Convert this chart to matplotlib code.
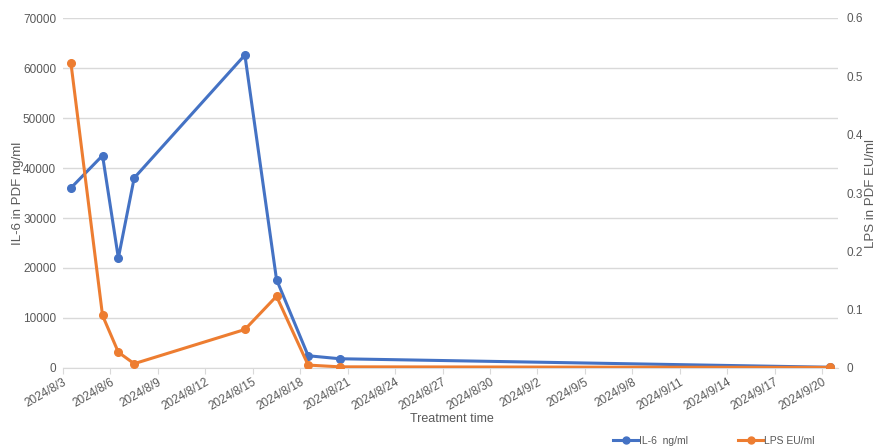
import numpy as np
import matplotlib
matplotlib.use('Agg')
import matplotlib.pyplot as plt
import matplotlib.dates as mdates
from datetime import datetime, timedelta
from matplotlib.lines import Line2D

plt.rcParams['font.family'] = ['Liberation Sans', 'DejaVu Sans']

# sampling dates and measured values
dates = ["2024-08-03", "2024-08-05", "2024-08-06", "2024-08-07", "2024-08-14",
         "2024-08-16", "2024-08-18", "2024-08-20", "2024-09-20"]
il6 = [36000, 42500, 22000, 38000, 62600, 17700, 2450, 1850, 150]  # ng/ml
lps = [0.523, 0.090, 0.027, 0.0074, 0.066, 0.123, 0.005, 0.002, 0.001]  # EU/ml

il6_ticks = [0, 10000, 20000, 30000, 40000, 50000, 60000, 70000]
lps_ticks = [0, 0.1, 0.2, 0.3, 0.4, 0.5, 0.6]

BLUE = '#4472C4'
ORANGE = '#ED7D31'
GREY = '#595959'
GRID = '#D9D9D9'

# points sit in the middle of each day on the date axis
x = [datetime.strptime(d, "%Y-%m-%d") + timedelta(hours=12) for d in dates]
start = datetime(2024, 8, 3)
end = datetime(2024, 9, 21)
xticks = [start + timedelta(days=3*i) for i in range(17)]

fig = plt.figure(figsize=(8.77, 4.48), dpi=100)
ax = fig.add_axes([63/877, 1 - 368/448, (838 - 63)/877, 350/448])
ax2 = ax.twinx()

ax.set_ylim(0, 70000)
ax2.set_ylim(0, 0.6)
ax.set_xlim(start, end)
ax.set_yticks(il6_ticks)
ax.set_yticklabels([str(v) for v in il6_ticks])
ax2.set_yticks(lps_ticks)
ax2.set_yticklabels(["0", "0.1", "0.2", "0.3", "0.4", "0.5", "0.6"])
ax.yaxis.grid(True, color=GRID, lw=1)
ax.set_axisbelow(True)

for a in (ax, ax2):
    for s in a.spines.values():
        s.set_visible(False)
    a.tick_params(axis='y', length=0, labelsize=8.5, labelcolor=GREY)
ax.tick_params(axis='y', pad=5)
ax2.tick_params(axis='y', pad=6)
ax.spines['bottom'].set_visible(True)
ax.spines['bottom'].set_color(GRID)

ax.set_xticks(xticks)
ax.xaxis.set_major_formatter(mdates.DateFormatter('%Y/%-m/%-d'))
ax.tick_params(axis='x', length=4, color=GRID, labelsize=8.5, labelcolor=GREY, pad=2)
plt.setp(ax.get_xticklabels(), rotation=30, ha='right', rotation_mode='anchor')

ax.plot(x, il6, color=BLUE, lw=2.2, marker='o', ms=5.5, zorder=3)
ax2.plot(x, lps, color=ORANGE, lw=2.2, marker='o', ms=5.5, zorder=3)

ax.set_xlabel("Treatment time", fontsize=9, color=GREY)
ax.xaxis.set_label_coords((452 - 63)/775, -(413 - 368)/350)
ax.set_ylabel("IL-6 in PDF ng/ml", fontsize=9.5, color=GREY)
ax.yaxis.set_label_coords((24 - 63)/775, 0.5)
ax2.set_ylabel("LPS in PDF EU/ml", fontsize=9.5, color=GREY)
ax2.yaxis.set_label_coords((865 - 63)/775, 0.5)

handles = [Line2D([], [], color=BLUE, lw=2.2, marker='o', ms=5),
           Line2D([], [], color=ORANGE, lw=2.2, marker='o', ms=5)]
fig.legend(handles, ["IL-6  ng/ml", "LPS EU/ml"], loc='center', ncol=2,
           bbox_to_anchor=(714/877, 1 - 441/448), frameon=False, fontsize=7.5,
           labelcolor=GREY, handlelength=2.4, handletextpad=0.1, columnspacing=4.8,
           borderpad=0, borderaxespad=0)

fig.savefig("out.png", dpi=100)
